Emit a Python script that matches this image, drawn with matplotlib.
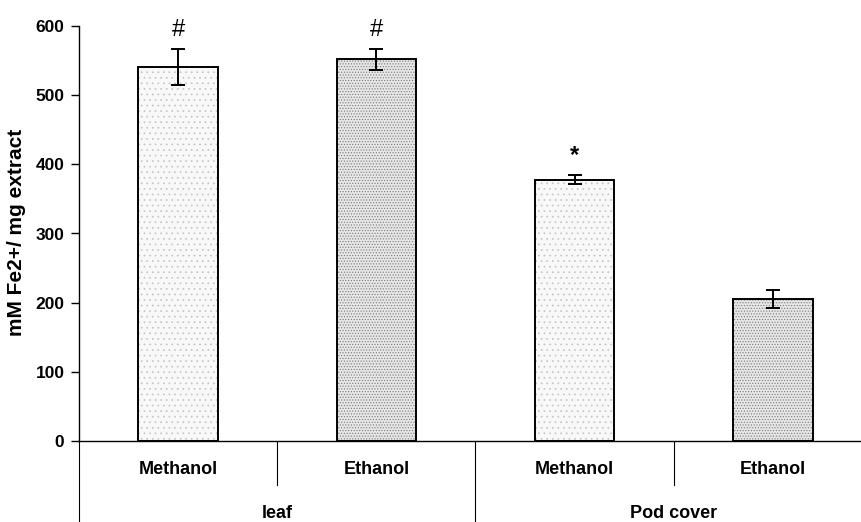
import matplotlib
matplotlib.use("Agg")
import matplotlib.pyplot as plt

plt.rcParams['font.family'] = ['Liberation Sans', 'DejaVu Sans']
plt.rcParams['hatch.linewidth'] = 0.5

# data
solvents = ["Methanol", "Ethanol", "Methanol", "Ethanol"]
groups = ["leaf", "Pod cover"]
values = [541, 552, 378, 205]
errors = [26, 15, 7, 13]
marks = ["#", "#", "*", ""]
hatches = ["...", "......", "...", "......"]

fig = plt.figure(figsize=(8.61, 5.22), dpi=100)
ax = fig.add_axes([79 / 861, 81 / 522, 793 / 861, 415 / 522])

x = list(range(len(values)))
for i in x:
    dense = hatches[i] != "..."
    ax.bar(i, values[i], width=0.40, color="#e6e6e6" if dense else "#f8f8f8",
           edgecolor="#7c7c7c" if dense else "#c4c4c4", hatch=hatches[i], linewidth=0, zorder=2)
ax.bar(x, values, width=0.40, color="none", edgecolor="black", linewidth=1.4, zorder=3)
ax.errorbar(x, values, yerr=errors, fmt="none", ecolor="black", elinewidth=1.4,
            capsize=5, capthick=1.4, zorder=4)

for i in x:
    if marks[i]:
        bold = marks[i] == "*"
        ax.annotate(marks[i], (i, values[i] + errors[i]), xytext=(0, 9), textcoords="offset points",
                    ha="center", va="baseline", fontsize=17,
                    fontweight="bold" if bold else "normal", zorder=5)

ax.set_xlim(-0.5, 3.5)
ax.set_ylim(0, 600)
ax.set_yticks([0, 100, 200, 300, 400, 500, 600])
ax.tick_params(axis="y", direction="out", length=5.5, width=1, pad=5, labelsize=12.5)
for lab in ax.get_yticklabels():
    lab.set_fontweight("bold")
ax.set_xticks([])
ax.spines["top"].set_visible(False)
ax.spines["right"].set_visible(False)
ax.spines["left"].set_linewidth(1)
ax.spines["bottom"].set_linewidth(1)

# two-level category axis
tr = ax.get_xaxis_transform()
for i in x:
    ax.text(i, -29 / 415, solvents[i], transform=tr, ha="center", va="center",
            fontsize=13, fontweight="bold")
for g, name in enumerate(groups):
    ax.text(2 * g + 0.5, -72 / 415, name, transform=tr, ha="center", va="center",
            fontsize=13, fontweight="bold")
for xs in [0.5, 2.5]:
    ax.plot([xs, xs], [0, -44 / 415], transform=tr, color="black", linewidth=0.8, clip_on=False)
for xs in [-0.5, 1.5]:
    ax.plot([xs, xs], [0, -0.2], transform=tr, color="black", linewidth=0.8, clip_on=False)

fig.text(17 / 861, 1 - 232 / 522, "mM Fe2+/ mg extract", rotation=90, ha="center", va="center",
         fontsize=15, fontweight="bold")

fig.savefig("out.png", dpi=100)
